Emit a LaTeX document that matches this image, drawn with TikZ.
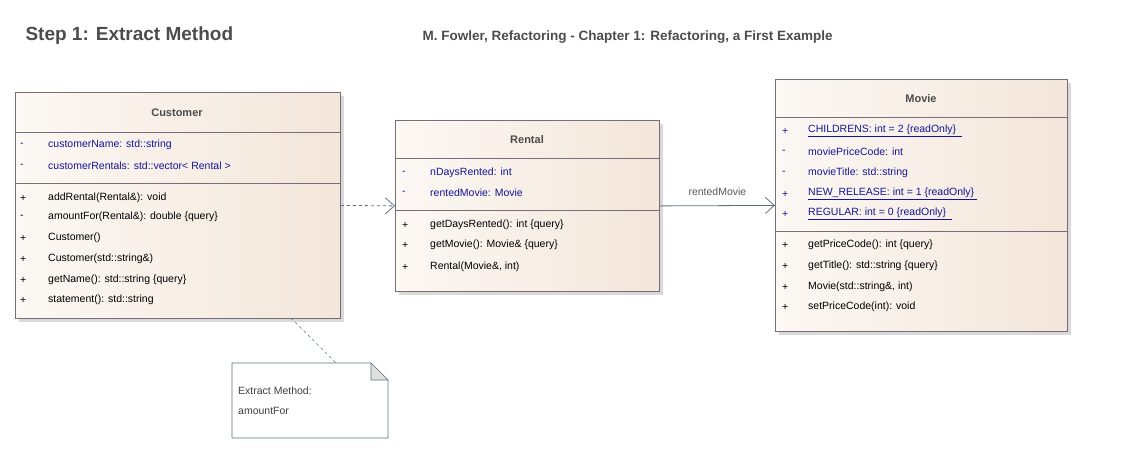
\documentclass[tikz,border=0pt]{standalone}
\usepackage{fontspec}
\setmainfont{Liberation Sans}
\usetikzlibrary{arrows.meta,shadows}
\definecolor{attr}{RGB}{20,20,150}
\definecolor{lnc}{RGB}{120,110,120}
\definecolor{arr}{RGB}{100,110,130}
\definecolor{notec}{RGB}{90,120,130}
\definecolor{clsL}{RGB}{252,248,244}
\definecolor{clsR}{RGB}{243,230,218}
\begin{document}
\begin{tikzpicture}[x=1pt,y=-1pt,
  cls/.style={draw=lnc, line width=0.8pt, left color=clsL, right color=clsR, anchor=north west, inner sep=0pt, drop shadow={shadow xshift=4pt,shadow yshift=-4pt,fill=black!25,opacity=0.6}},
  ttl/.style={font=\fontsize{11}{13}\selectfont\bfseries, text=black!70},
  t/.style={font=\fontsize{10.5}{12}\selectfont, anchor=west, inner sep=0pt},
  a/.style={t, text=attr},
  sep/.style={draw=lnc, line width=0.8pt}]
\useasboundingbox (0,0) rectangle (1142,453);
\node[font=\fontsize{19}{22}\selectfont\bfseries, text=black!70, anchor=west] (h1) at (22,36) {Step 1: Extract Method};
\node[font=\fontsize{13.5}{16}\selectfont\bfseries, text=black!70, anchor=west] (h2) at (419,37) {M. Fowler, Refactoring - Chapter 1: Refactoring, a First Example};
% Customer
\node[cls, minimum width=325pt, minimum height=226pt] (cust) at (15,92) {};
\node[ttl] (ct) at (177,113) {Customer};
\draw[sep] (15,132) -- (340,132) (15,183) -- (340,183);
\foreach \y/\m/\s in {145/-/customerName: std::string,166/-/customerRentals: std::vector< Rental >}
  {\node[a] at (20,\y) {\m}; \node[a] at (48,\y) {\s};}
\foreach \y/\m/\s in {198/+/addRental(Rental\&): void,217/-/amountFor(Rental\&): double \{query\},238/+/Customer(),259/+/Customer(std::string\&),280/+/getName(): std::string \{query\},300/+/statement(): std::string}
  {\node[t] at (20,\y) {\m}; \node[t] at (48,\y) {\s};}
% Rental
\node[cls, minimum width=264pt, minimum height=171pt] (rent) at (395,120) {};
\node[ttl] (rt) at (527,140) {Rental};
\draw[sep] (395,158) -- (659,158) (395,210) -- (659,210);
\foreach \y/\m/\s in {173/-/nDaysRented: int,193/-/rentedMovie: Movie}
  {\node[a] at (402,\y) {\m}; \node[a] at (430,\y) {\s};}
\foreach \y/\m/\s in {225/+/getDaysRented(): int \{query\},245/+/getMovie(): Movie\& \{query\}}
  {\node[t] at (402,\y) {\m}; \node[t] at (430,\y) {\s};}
\node[t] at (402,267) {+}; \node[t] at (430,267) {Rental(Movie\&, int)};
% Movie
\node[cls, minimum width=292pt, minimum height=252pt] (mov) at (775,79) {};
\node[ttl] (mt) at (921,99) {Movie};
\draw[sep] (775,117) -- (1067,117) (775,231) -- (1067,231);
\node[a] at (782,131) {+}; \node[a] at (808,131) {\underline{CHILDRENS: int = 2 \{readOnly\}\ \ }};
\node[a] at (782,152) {-}; \node[a] at (808,152) {moviePriceCode: int};
\node[a] at (782,173) {-}; \node[a] at (808,173) {movieTitle: std::string};
\node[a] at (782,194) {+}; \node[a] at (808,194) {\underline{NEW\_RELEASE: int = 1 \{readOnly\}\ }};
\node[a] at (782,214) {+}; \node[a] at (808,214) {\underline{REGULAR: int = 0 \{readOnly\}\ \ }};
\foreach \y/\m/\s in {245/+/getPriceCode(): int \{query\},266/+/getTitle(): std::string \{query\},307/+/setPriceCode(int): void}
  {\node[t] at (782,\y) {\m}; \node[t] at (808,\y) {\s};}
\node[t] at (782,287) {+}; \node[t] at (808,287) {Movie(std::string\&, int)};
% Note
\draw[draw=notec, fill=white, line width=0.7pt] (232,363) -- (371,363) -- (388,380) -- (388,438) -- (232,438) -- cycle;
\draw[draw=notec, fill=black!12, line width=0.7pt] (371,363) -- (371,380) -- (388,380) -- cycle;
\node[draw=none, minimum width=156pt, minimum height=75pt, anchor=north west, inner sep=0pt] (note) at (232,363) {};
\node[t, text=black!75] at (238,391) {Extract Method:};
\node[t, text=black!75] at (238,411) {amountFor};
% connectors
\coordinate (cb) at (291,318);
\coordinate (nt) at (336,363);
\draw[notec, dashed, line width=0.7pt] (cb) -- (nt);
\draw[arr, dashed, line width=0.8pt, -{Straight Barb[length=9pt,width=16pt]}] (cust.east) -- (rent.west);
\draw[arr, line width=0.8pt, -{Straight Barb[length=9pt,width=16pt]}] (rent.east) -- node[above=6pt, font=\fontsize{10.5}{12}\selectfont, text=black!65] {rentedMovie} (mov.west);
\end{tikzpicture}
\end{document}
